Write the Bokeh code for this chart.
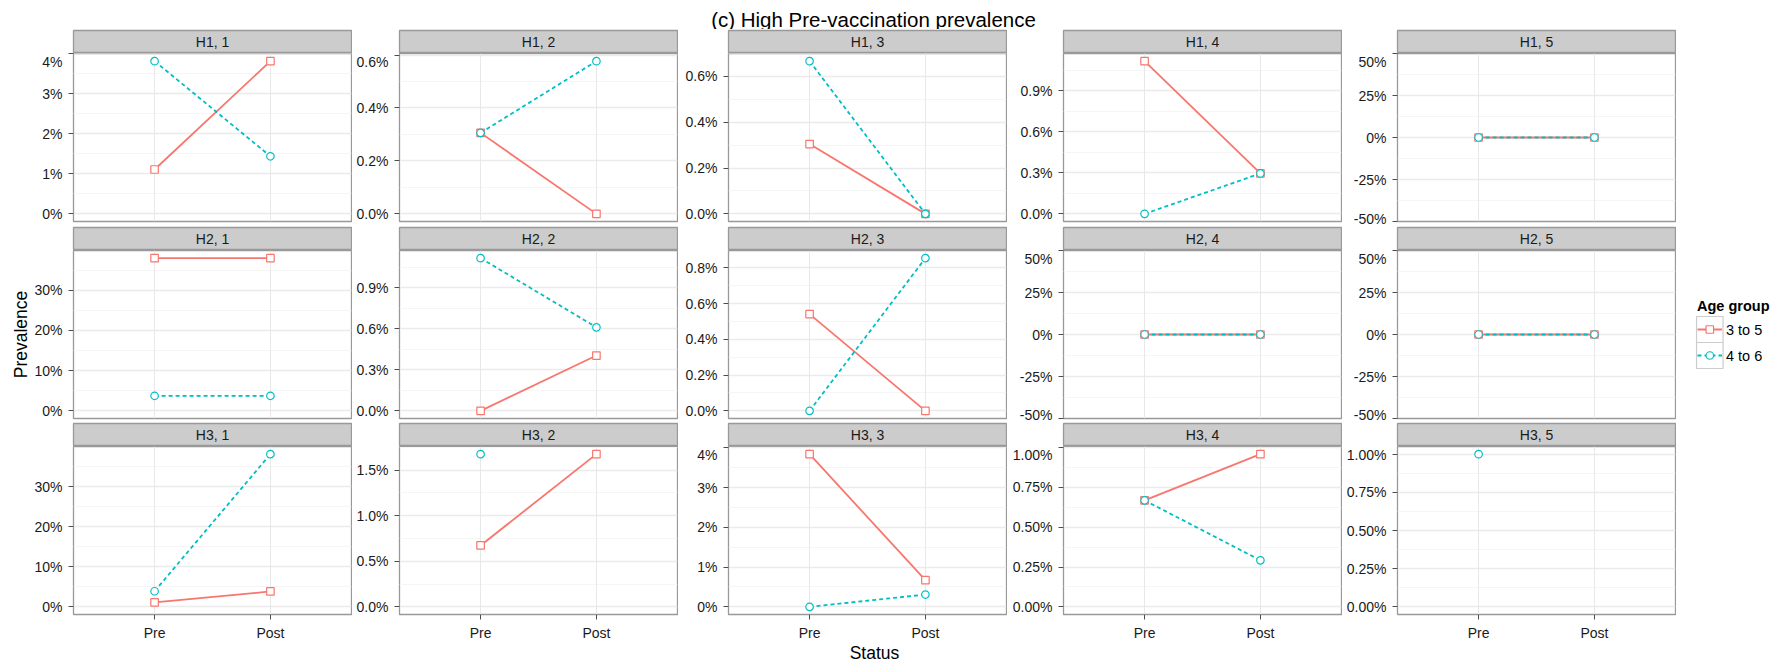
import math
from bokeh.plotting import figure
from bokeh.layouts import column, row
from bokeh.models import (Range1d, FactorRange, LinearAxis, CategoricalAxis, FixedTicker,
                          CategoricalTicker, Grid, PrintfTickFormatter)
from bokeh.core.properties import value
from bokeh.embed import file_html
from bokeh.resources import INLINE

nan = float("nan")

# ---------------- data ----------------
title_text = "(c) High Pre-vaccination prevalence"
statuses = ["Pre", "Post"]
age_groups = ["3 to 5", "4 to 6"]
row_names = ["H1", "H2", "H3"]
col_names = ["1", "2", "3", "4", "5"]

# prevalence (%) per panel, panel order H1,1 .. H1,5, H2,1 .. H3,5
pre_3to5 = [1.11, 0.306, 0.305, 1.115, 0.0,
            38.0, 0.0, 0.541, 0.0, 0.0,
            1.10, 0.674, 3.84, 0.668, nan]
post_3to5 = [3.82, 0.0, 0.0, 0.295, 0.0,
             38.0, 0.404, 0.0, 0.0, 0.0,
             3.85, 1.676, 0.67, 0.958, nan]
pre_4to6 = [3.82, 0.306, 0.667, 0.0, 0.0,
            3.75, 1.115, 0.0, 0.0, 0.0,
            3.9, 1.676, 0.0, 0.668, 1.0]
post_4to6 = [1.44, 0.577, 0.0, 0.295, 0.0,
             3.75, 0.61, 0.854, 0.0, 0.0,
             38.2, nan, 0.31, 0.292, nan]

tick_labels = [
    ["0%", "1%", "2%", "3%", "4%"],
    ["0.0%", "0.2%", "0.4%", "0.6%"],
    ["0.0%", "0.2%", "0.4%", "0.6%"],
    ["0.0%", "0.3%", "0.6%", "0.9%"],
    ["-50%", "-25%", "0%", "25%", "50%"],
    ["0%", "10%", "20%", "30%"],
    ["0.0%", "0.3%", "0.6%", "0.9%"],
    ["0.0%", "0.2%", "0.4%", "0.6%", "0.8%"],
    ["-50%", "-25%", "0%", "25%", "50%"],
    ["-50%", "-25%", "0%", "25%", "50%"],
    ["0%", "10%", "20%", "30%"],
    ["0.0%", "0.5%", "1.0%", "1.5%"],
    ["0%", "1%", "2%", "3%", "4%"],
    ["0.00%", "0.25%", "0.50%", "0.75%", "1.00%"],
    ["0.00%", "0.25%", "0.50%", "0.75%", "1.00%"],
]

# ---------------- style ----------------
RED = "#F8766D"
CYAN = "#00BFC4"
FONT = "Liberation Sans"
TXT = "#1A1A1A"
BORDER = "#999999"
FRAME_W, FRAME_H = 278, 168
col_left = [73, 47, 50, 56, 55]
row_bottom = [5, 4, 27]
TOTAL_W = 1779
TITLE_H = 29
XLAB_H = 20


def yrange(vals):
    v = [x for x in vals if not math.isnan(x)] + [0.0]
    lo, hi = min(v), max(v)
    if hi - lo == 0:
        return lo - 50.0, hi + 50.0
    pad = 0.05 * (hi - lo)
    return lo - pad, hi + pad


def make_strip(i, j):
    s = figure(frame_width=FRAME_W, frame_height=23,
               min_border_left=col_left[j], min_border_right=1,
               min_border_top=1, min_border_bottom=0,
               x_range=Range1d(0, 1), y_range=Range1d(0, 1),
               x_axis_type=None, y_axis_type=None,
               toolbar_location=None, output_backend="svg")
    s.background_fill_color = "#CCCCCC"
    s.border_fill_color = "white"
    s.outline_line_color = BORDER
    s.outline_line_width = 1.3
    s.text(x=[0.5], y=[0.5], text=[f"{row_names[i]}, {col_names[j]}"],
           text_align="center", text_baseline="middle",
           text_font=value(FONT), text_font_size="14px", text_color=TXT)
    return s


def make_panel(i, j):
    k = i * 5 + j
    red_vals = [pre_3to5[k], post_3to5[k]]
    cyan_vals = [pre_4to6[k], post_4to6[k]]
    lo, hi = yrange(red_vals + cyan_vals)
    p = figure(frame_width=FRAME_W, frame_height=FRAME_H,
               min_border_left=col_left[j], min_border_right=1,
               min_border_top=0, min_border_bottom=row_bottom[i],
               x_range=FactorRange(factors=statuses, range_padding=0.2,
                                   range_padding_units="absolute"),
               y_range=Range1d(lo, hi),
               x_axis_type=None, y_axis_type=None,
               toolbar_location=None, output_backend="svg")
    p.background_fill_color = "white"
    p.border_fill_color = "white"
    p.outline_line_color = BORDER
    p.outline_line_width = 1.3

    labels = tick_labels[k]
    ticks = [float(s.rstrip("%")) for s in labels]
    dec = max((len(s.rstrip("%").split(".")[1]) if "." in s else 0) for s in labels)
    step = ticks[1] - ticks[0]
    minor = [t + step / 2 for t in [ticks[0] - step] + ticks]
    ticker = FixedTicker(ticks=ticks, minor_ticks=minor)

    yaxis = LinearAxis(ticker=ticker, formatter=PrintfTickFormatter(format=f"%.{dec}f%%"),
                       axis_line_color=None, major_tick_line_color="#4D4D4D",
                       major_tick_out=5, major_tick_in=0, minor_tick_line_color=None,
                       major_label_standoff=6, major_label_text_font=FONT,
                       major_label_text_font_size="14px", major_label_text_color=TXT)
    if i == 1 and j == 0:
        yaxis.axis_label = "Prevalence"
        yaxis.axis_label_text_font = FONT
        yaxis.axis_label_text_font_size = "17.5px"
        yaxis.axis_label_text_font_style = "normal"
        yaxis.axis_label_text_color = "black"
        yaxis.axis_label_standoff = 0
    p.add_layout(yaxis, "left")

    if i == 2:
        xaxis = CategoricalAxis(axis_line_color=None, major_tick_line_color="#4D4D4D",
                                major_tick_out=5, major_tick_in=0, minor_tick_line_color=None,
                                major_label_standoff=5, major_label_text_font=FONT,
                                major_label_text_font_size="14px", major_label_text_color=TXT)
        p.add_layout(xaxis, "below")

    p.add_layout(Grid(dimension=1, ticker=ticker, grid_line_color="#EBEBEB", grid_line_width=1.5,
                      minor_grid_line_color="#F5F5F5", minor_grid_line_width=1))
    p.add_layout(Grid(dimension=0, ticker=CategoricalTicker(), grid_line_color="#E8E8E8",
                      grid_line_width=1))

    p.line(x=statuses, y=red_vals, line_color=RED, line_width=1.8)
    p.line(x=statuses, y=cyan_vals, line_color=CYAN, line_width=1.8, line_dash="4 3")
    p.scatter(x=statuses, y=red_vals, marker="square", size=7.5,
              fill_color="white", line_color=RED, line_width=1.2)
    p.scatter(x=statuses, y=cyan_vals, marker="circle", size=7.5,
              fill_color="white", line_color=CYAN, line_width=1.2)
    return p


rows = []
for i in range(3):
    cells = []
    for j in range(5):
        cells.append(column(make_strip(i, j), make_panel(i, j), spacing=0))
    rows.append(row(*cells, spacing=0))
grid_block = column(*rows, spacing=0)

# legend (its own small canvas, y measured downward from the top of the panel block)
LEG_W = TOTAL_W - 1676
LEG_H = 612
leg = figure(width=LEG_W, height=LEG_H, x_range=Range1d(0, LEG_W), y_range=Range1d(LEG_H, 0),
             x_axis_type=None, y_axis_type=None, min_border=0,
             toolbar_location=None, output_backend="svg")
leg.outline_line_color = None
leg.background_fill_color = "white"
leg.border_fill_color = "white"
leg.text(x=[20.5], y=[276], text=["Age group"], text_align="left", text_baseline="middle",
         text_font=value(FONT), text_font_size="14.5px", text_font_style="bold",
         text_color="black")
key_y = [300, 326]
key_colors = [RED, CYAN]
key_dash = ["solid", "4 3"]
key_marker = ["square", "circle"]
for g in range(2):
    leg.rect(x=[33.3], y=[key_y[g]], width=26.5, height=26, fill_color="white",
             line_color="#CCCCCC", line_width=1.2)
    leg.line(x=[21, 45.5], y=[key_y[g], key_y[g]], line_color=key_colors[g], line_width=1.8,
             line_dash=key_dash[g])
    leg.scatter(x=[33.3], y=[key_y[g]], marker=key_marker[g], size=7.5, fill_color="white",
                line_color=key_colors[g], line_width=1.2)
    leg.text(x=[49.5], y=[key_y[g]], text=[age_groups[g]], text_align="left",
             text_baseline="middle", text_font=value(FONT), text_font_size="14.5px",
             text_color="black")

# title
title_fig = figure(width=TOTAL_W, height=TITLE_H, x_range=Range1d(0, TOTAL_W),
                   y_range=Range1d(TITLE_H, 0),
                   x_axis_type=None, y_axis_type=None, min_border=0,
                   toolbar_location=None, output_backend="svg")
title_fig.outline_line_color = None
title_fig.text(x=[873], y=[18.5], text=[title_text], text_align="center",
               text_baseline="middle", text_font=value(FONT), text_font_size="20.5px",
               text_color="black")

# x axis title
xlab_fig = figure(width=TOTAL_W, height=XLAB_H, x_range=Range1d(0, TOTAL_W),
                  y_range=Range1d(XLAB_H, 0),
                  x_axis_type=None, y_axis_type=None, min_border=0,
                  toolbar_location=None, output_backend="svg")
xlab_fig.outline_line_color = None
xlab_fig.text(x=[874], y=[9], text=["Status"], text_align="center",
              text_baseline="middle", text_font=value(FONT), text_font_size="17.5px",
              text_color="black")

layout = column(title_fig, row(grid_block, leg, spacing=0), xlab_fig, spacing=0)

open("out.html", "w").write(file_html(layout, INLINE))
